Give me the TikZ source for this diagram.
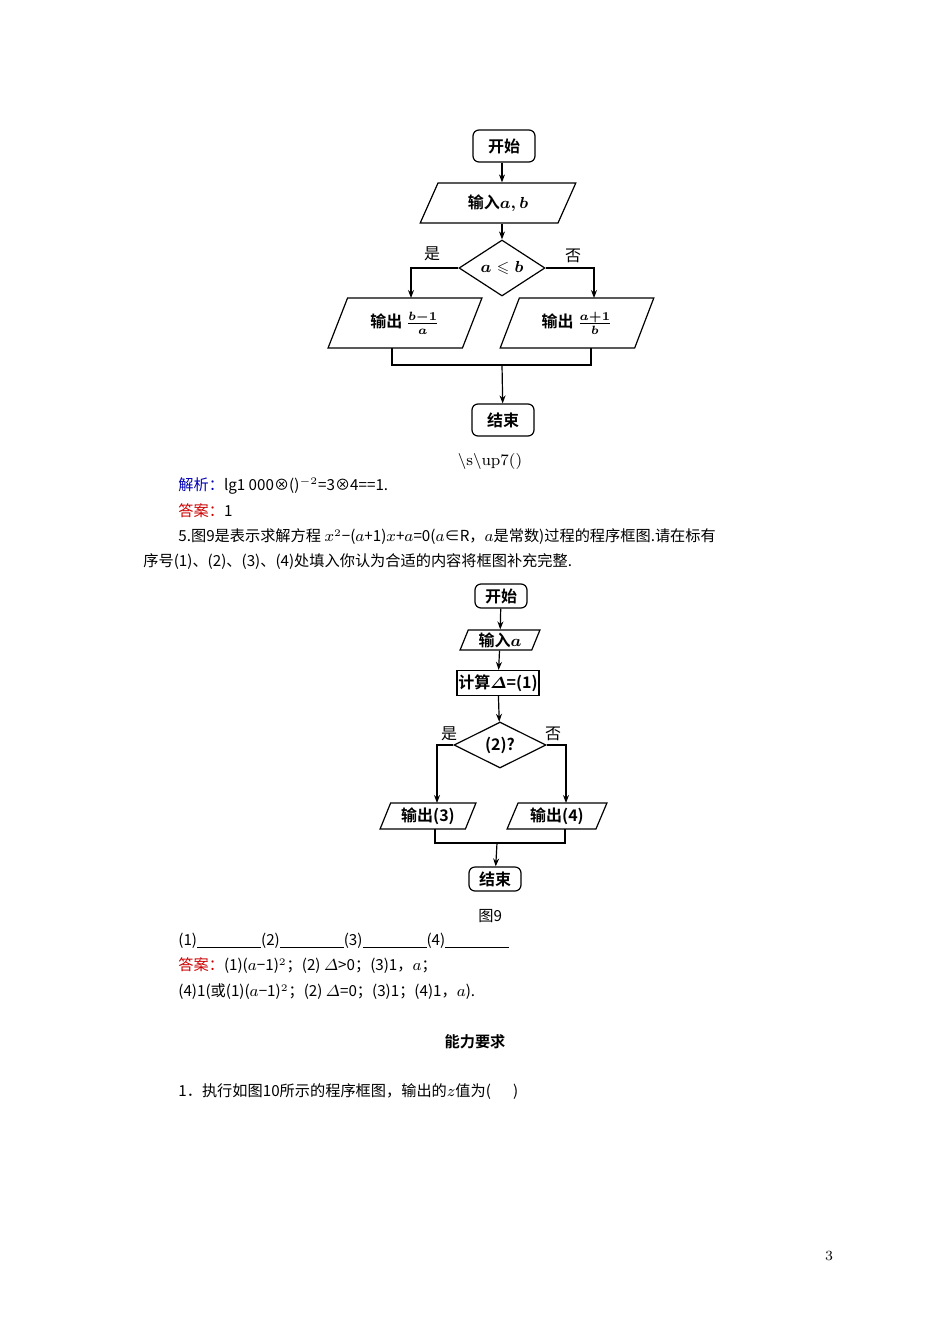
\documentclass[tikz,border=0pt]{standalone}
\usepackage{amsmath,amssymb}
\usepackage{fontspec}
\newfontfamily\cjk{Noto Sans CJK SC}
\newfontfamily\cjkb{Noto Sans CJK SC Bold}
\usetikzlibrary{shapes.geometric,arrows.meta}
\begin{document}
\begin{tikzpicture}[x=0.5pt,y=-0.5pt,
  box/.style={draw,line width=0.6pt,font=\cjkb\fontsize{8}{9}\selectfont,inner sep=0pt},
  term/.style={box,rounded corners=3pt},
  para/.style={box,trapezium,trapezium stretches=true,trapezium left angle=62,trapezium right angle=118},
  dia/.style={box,diamond,aspect=1.55},
  arr/.style={-{Stealth[length=4pt,width=3pt]},line width=0.6pt},
  ln/.style={line width=0.6pt},
  lab/.style={font=\cjk\fontsize{8}{9}\selectfont},
  txt/.style={anchor=west,font=\cjk\fontsize{7.6}{9}\selectfont,inner sep=0pt}]
\useasboundingbox[fill=white] (0,0) rectangle (950,1344);
% ---- chart 1
\node[term,minimum width=31pt,minimum height=16pt] (s1) at (504,146) {开始};
\node[para,minimum width=78pt,minimum height=20pt] (i1) at (498,203) {输入$\boldsymbol{a,b}$};
\node[dia,minimum width=43pt,minimum height=28pt] (d1) at (502,268) {$\boldsymbol{a\leqslant b}$};
\node[para,minimum width=77pt,minimum height=25pt] (l1) at (405,323) {输出 $\boldsymbol{\frac{b-1}{a}}$};
\node[para,minimum width=77pt,minimum height=25pt] (r1) at (577,323) {输出 $\boldsymbol{\frac{a+1}{b}}$};
\node[term,minimum width=31pt,minimum height=16pt] (e1) at (503,420) {结束};
\coordinate (m1) at (502,365);
\draw[arr] (s1.south -| d1.north) -- (i1.north -| d1.north);
\draw[arr] (i1.south -| d1.north) -- (d1);
\draw[arr] (d1.west) -| (411,298);
\draw[arr] (d1.east) -| (594,298);
\draw[ln] (392,348) |- (591,365) -- (591,348);
\draw[arr] (m1) -- (e1);
\node[lab] (y1) at (432,254) {是};
\node[lab] (n1) at (573,256) {否};
\node[font=\fontsize{8}{9}\selectfont] (c1) at (490,461) {\textbackslash s\textbackslash up7()};
% ---- text
\node[txt,text=blue!70!black] (t1) at (178,486) {解析：\textcolor{black}{lg1 000⊗()$^{-2}$=3⊗4==1.}};
\node[txt,text=red!80!black] (t2) at (178,511) {答案：\textcolor{black}{1}};
\node[txt] (t3) at (178,537) {5.图9是表示求解方程 $x^2$−($a$+1)$x$+$a$=0($a$∈R，$a$是常数)过程的程序框图.请在标有};
\node[txt] (t4) at (143,562) {序号(1)、(2)、(3)、(4)处填入你认为合适的内容将框图补充完整.};
% ---- chart 2
\node[term,minimum width=26pt,minimum height=12pt] (s2) at (501,596) {开始};
\node[para,minimum width=40pt,minimum height=10pt,trapezium left angle=70,trapezium right angle=110] (i2) at (500,640) {输入$\boldsymbol{a}$};
\node[box,minimum width=41pt,minimum height=12.5pt] (c2) at (498,683) {计算$\boldsymbol{\varDelta}$=(1)};
\node[dia,minimum width=46pt,minimum height=23pt,aspect=2] (d2) at (500,745) {(2)?};
\node[para,minimum width=48pt,minimum height=13pt,trapezium left angle=66,trapezium right angle=114] (l2) at (428,816) {输出(3)};
\node[para,minimum width=50pt,minimum height=13pt,trapezium left angle=66,trapezium right angle=114] (r2) at (557,816) {输出(4)};
\node[term,minimum width=26pt,minimum height=12pt] (e2) at (495,879) {结束};
\coordinate (m2) at (497,843);
\draw[arr] (s2) -- (i2);
\draw[arr] (i2) -- (c2);
\draw[arr] (c2) -- (d2);
\draw[arr] (d2.west) -| (437,803);
\draw[arr] (d2.east) -| (566,803);
\draw[ln] (435,829) |- (565,843) -- (565,829);
\draw[arr] (m2) -- (e2);
\node[lab] (y2) at (449,734) {是};
\node[lab] (n2) at (553,734) {否};
\node[txt] (f9) at (478,916) {图9};
% ---- answers
\node[txt] (t5) at (178,941) {(1)\rule[-1pt]{32pt}{0.4pt}(2)\rule[-1pt]{32pt}{0.4pt}(3)\rule[-1pt]{32pt}{0.4pt}(4)\rule[-1pt]{32pt}{0.4pt}};
\node[txt,text=red!80!black] (t6) at (178,966) {答案：\textcolor{black}{(1)($a$−1)$^2$；(2) $\varDelta$>0；(3)1，$a$；}};
\node[txt] (t7) at (178,992) {(4)1(或(1)($a$−1)$^2$；(2) $\varDelta$=0；(3)1；(4)1，$a$).};
\node[font=\cjkb\fontsize{7.6}{9}\selectfont] (h1) at (475,1042) {能力要求};
\node[txt] (t8) at (178,1092) {1．执行如图10所示的程序框图，输出的$z$值为(\quad\ \ )};
\node[font=\fontsize{7}{8}\selectfont] (pg) at (829,1256) {3};
\end{tikzpicture}
\end{document}
